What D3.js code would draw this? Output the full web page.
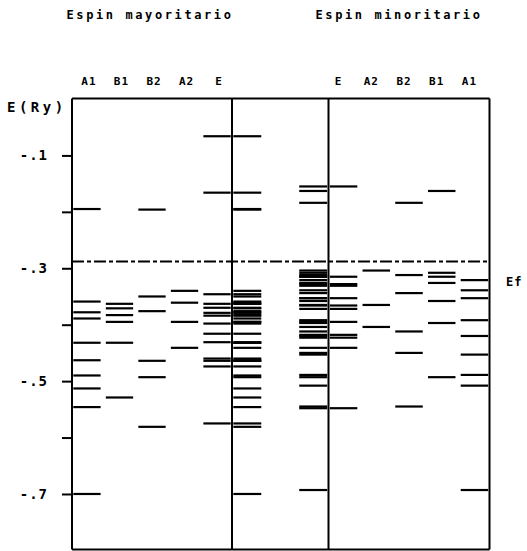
<!DOCTYPE html>
<html>
<head>
<meta charset="utf-8">
<script src="https://cdn.jsdelivr.net/npm/d3@7"></script>
<style>
  body { margin: 0; background: #fff; }
  svg text { font-family: "DejaVu Sans Mono", monospace; font-weight: bold; fill: #000; }
</style>
</head>
<body>
<div id="chart"></div>
<script>
// irreducible representations, in the order printed over each panel
const irrepsMaj = ["A1", "B1", "B2", "A2", "E"];
const irrepsMin = ["E", "A2", "B2", "B1", "A1"];
const totalCols = ["maj", "min"];
const titles = ["Espin mayoritario", "Espin minoritario"];

// energy levels (Ry), majority spin
const majA1 = [-0.195, -0.359, -0.378, -0.389, -0.432, -0.463, -0.490, -0.513, -0.546, -0.700];
const majB1 = [-0.363, -0.371, -0.383, -0.395, -0.432, -0.529];
const majB2 = [-0.196, -0.350, -0.376, -0.464, -0.493, -0.581];
const majA2 = [-0.340, -0.361, -0.395, -0.441];
const majE = [-0.066, -0.166, -0.346, -0.363, -0.370, -0.379, -0.384, -0.398, -0.416, -0.431, -0.460, -0.464, -0.474, -0.575];

// energy levels (Ry), minority spin
const minE = [-0.155, -0.315, -0.328, -0.331, -0.353, -0.366, -0.372, -0.395, -0.418, -0.423, -0.441, -0.548];
const minA2 = [-0.304, -0.365, -0.404];
const minB2 = [-0.184, -0.312, -0.344, -0.412, -0.450, -0.545];
const minB1 = [-0.163, -0.308, -0.315, -0.326, -0.358, -0.397, -0.493];
const minA1 = [-0.321, -0.339, -0.353, -0.392, -0.420, -0.453, -0.489, -0.508, -0.693];

const fermiLevel = -0.288;
const yTicks = [-0.1, -0.2, -0.3, -0.4, -0.5, -0.6, -0.7];
const labeledTicks = [-0.1, -0.3, -0.5, -0.7];
const tickLabels = ["-.1", "-.3", "-.5", "-.7"];

class LevelDiagram {
  constructor(el) {
    this.el = el;
    this._setup();
    this._scaffold();
    this._render();
  }

  _setup() {
    this.width = 527;
    this.height = 551;
    this.top = 98.5;
    this.bottom = 549.5;
    this.xAxis = 72;
    this.xDivA = 232;
    this.xDivB = 328.5;
    this.xRight = 489.5;

    this.y = d3.scaleLinear().domain([0, -0.8]).range([99, 550.4]);

    this.xMaj = d3.scaleBand().domain(irrepsMaj)
      .range([this.xAxis, this.xDivA]).paddingInner(0.16).paddingOuter(0.04);
    this.xMin = d3.scaleBand().domain(irrepsMin)
      .range([this.xDivB, this.xRight]).paddingInner(0.16).paddingOuter(0.04);
    this.xTot = d3.scaleBand().domain(totalCols)
      .range([this.xDivA, this.xDivB]).paddingInner(0.576).paddingOuter(0.02);

    this.majLevels = { A1: majA1, B1: majB1, B2: majB2, A2: majA2, E: majE };
    this.minLevels = { A1: minA1, B1: minB1, B2: minB2, A2: minA2, E: minE };
  }

  _scaffold() {
    d3.select(this.el).selectAll("*").remove();
    this.svg = d3.select(this.el).append("svg")
      .attr("width", this.width)
      .attr("height", this.height);
    this.gLevels = this.svg.append("g").attr("class", "levels");
    this.gFrame = this.svg.append("g").attr("class", "frame");
    this.gText = this.svg.append("g").attr("class", "labels");
  }

  _levelRows() {
    const rows = [];
    irrepsMaj.forEach((c) => {
      this.majLevels[c].forEach((e) => {
        rows.push({ x: this.xMaj(c), w: this.xMaj.bandwidth(), e });
        rows.push({ x: this.xTot("maj"), w: this.xTot.bandwidth(), e });
      });
    });
    irrepsMin.forEach((c) => {
      this.minLevels[c].forEach((e) => {
        rows.push({ x: this.xMin(c), w: this.xMin.bandwidth(), e });
        rows.push({ x: this.xTot("min"), w: this.xTot.bandwidth(), e });
      });
    });
    return rows;
  }

  _render() {
    const y = this.y;

    this.gLevels.selectAll("line")
      .data(this._levelRows())
      .join("line")
      .attr("x1", (d) => d.x)
      .attr("x2", (d) => d.x + d.w)
      .attr("y1", (d) => y(d.e))
      .attr("y2", (d) => y(d.e))
      .attr("stroke", "#000")
      .attr("stroke-width", 2.2);

    // Fermi level
    this.gLevels.append("line")
      .attr("x1", this.xAxis)
      .attr("x2", this.xRight)
      .attr("y1", y(fermiLevel))
      .attr("y2", y(fermiLevel))
      .attr("stroke", "#000")
      .attr("stroke-width", 2)
      .attr("stroke-dasharray", "12,3,4,3");

    // frame and panel dividers
    this.gFrame.selectAll("line.v")
      .data([this.xAxis, this.xDivA, this.xDivB, this.xRight])
      .join("line")
      .attr("class", "v")
      .attr("x1", (d) => d).attr("x2", (d) => d)
      .attr("y1", this.top).attr("y2", this.bottom)
      .attr("stroke", "#000").attr("stroke-width", 2);

    this.gFrame.selectAll("line.h")
      .data([this.top, this.bottom])
      .join("line")
      .attr("class", "h")
      .attr("x1", this.xAxis).attr("x2", this.xRight)
      .attr("y1", (d) => d).attr("y2", (d) => d)
      .attr("stroke", "#000").attr("stroke-width", 2);

    const axis = d3.axisLeft(y)
      .tickValues(yTicks)
      .tickSize(10)
      .tickPadding(14)
      .tickFormat((d) => {
        const i = labeledTicks.findIndex((t) => Math.abs(t - d) < 1e-9);
        return i < 0 ? "" : tickLabels[i];
      });

    const gAxis = this.gFrame.append("g")
      .attr("transform", `translate(${this.xAxis},0)`)
      .call(axis);
    gAxis.select(".domain").remove();
    gAxis.selectAll(".tick line").attr("stroke", "#000").attr("stroke-width", 2);
    gAxis.selectAll(".tick text")
      .attr("font-size", 14)
      .attr("letter-spacing", 1)
      .attr("font-family", null);

    // titles
    this.gText.selectAll("text.title")
      .data([
        { t: titles[0], x: 150 },
        { t: titles[1], x: 399 },
      ])
      .join("text")
      .attr("class", "title")
      .attr("x", (d) => d.x)
      .attr("y", 19)
      .attr("text-anchor", "middle")
      .attr("font-size", 12)
      .attr("letter-spacing", 2.6)
      .text((d) => d.t);

    // column labels
    const colLabels = irrepsMaj.map((c) => ({ t: c, x: this.xMaj(c) + this.xMaj.bandwidth() / 2 + 2 }))
      .concat(irrepsMin.map((c) => ({ t: c, x: this.xMin(c) + this.xMin.bandwidth() / 2 - 5 })));
    this.gText.selectAll("text.col")
      .data(colLabels)
      .join("text")
      .attr("class", "col")
      .attr("x", (d) => d.x)
      .attr("y", 85)
      .attr("text-anchor", "middle")
      .attr("font-size", 11)
      .attr("letter-spacing", 1)
      .text((d) => d.t);

    this.gText.append("text")
      .attr("x", 7)
      .attr("y", 112)
      .attr("font-size", 14)
      .attr("letter-spacing", 3.5)
      .text("E(Ry)");

    this.gText.append("text")
      .attr("x", 506)
      .attr("y", y(fermiLevel) + 24)
      .attr("font-size", 12)
      .attr("letter-spacing", 1)
      .text("Ef");
  }
}

new LevelDiagram(document.getElementById("chart"));
</script>
</body>
</html>
